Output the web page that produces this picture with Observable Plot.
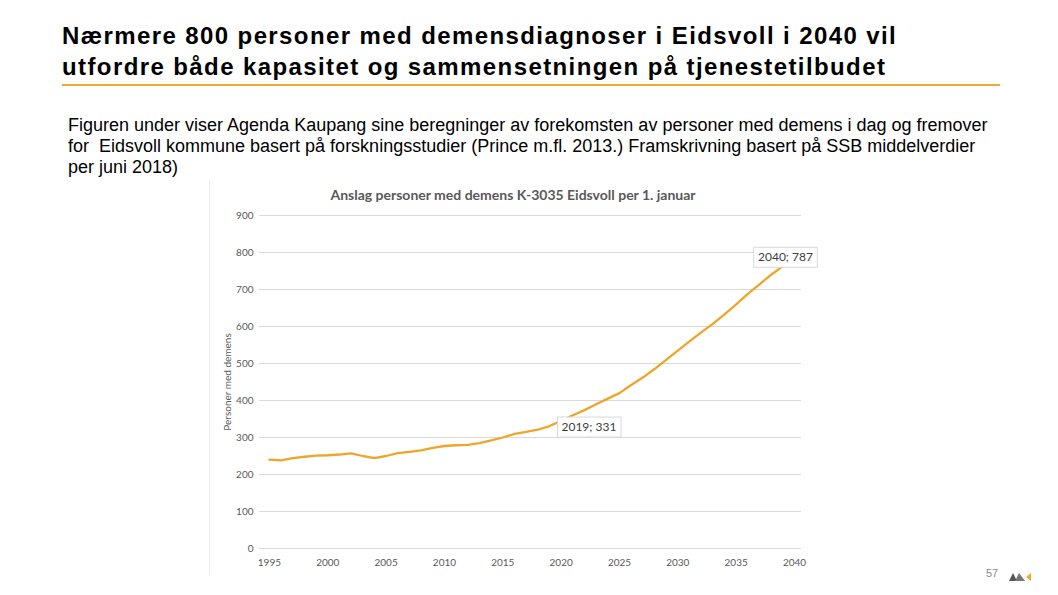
<!DOCTYPE html>
<html>
<head>
<meta charset="utf-8">
<script src="https://cdn.jsdelivr.net/npm/d3@7"></script>
<script src="https://cdn.jsdelivr.net/npm/@observablehq/plot@0.6"></script>
<style>
  html, body { margin: 0; padding: 0; background: #fff; }
  #page { position: relative; width: 1058px; height: 595px; overflow: hidden; background: #fff; }
  #title { position: absolute; left: 62px; top: 20px; font-family: "Liberation Sans", Arial, sans-serif; font-weight: bold; font-size: 24px; letter-spacing: 1.4px; line-height: 31px; color: #000; white-space: pre; }
  #rule { position: absolute; left: 62px; top: 84px; width: 938px; height: 2px; background: #EFAA33; }
  #sub { position: absolute; left: 68px; top: 115px; font-family: "Liberation Sans", Arial, sans-serif; font-size: 18px; line-height: 21px; color: #000; white-space: pre; }
  #chart { position: absolute; left: 209px; top: 180px; width: 606px; height: 395px; border-left: 1px solid #ececec; }
  #charttitle { position: absolute; left: 0; width: 606px; top: 6px; text-align: center; font-family: Lato, "Open Sans", sans-serif; font-weight: bold; font-size: 14px; color: #595959; }
  #pagenum { position: absolute; left: 986px; top: 567px; font-family: "Liberation Sans", Arial, sans-serif; font-size: 11px; color: #8a8a8a; }
  #logo { position: absolute; left: 1009px; top: 571px; }
</style>
</head>
<body>
<div id="page">
  <div id="title"></div>
  <div id="rule"></div>
  <div id="sub"></div>
  <div id="chart"><div id="charttitle"></div></div>
  <div id="pagenum">57</div>
  <svg id="logo" width="24" height="11" viewBox="0 0 24 11">
    <polygon points="0,10 4,2 8,10" fill="#555"/>
    <polygon points="6,10 10,2 16,10" fill="#777"/>
    <polygon points="17,6 22,2 22,10" fill="#EFAA33"/>
  </svg>
</div>
<script>
const titleLines = [
  "Nærmere 800 personer med demensdiagnoser i Eidsvoll i 2040 vil",
  "utfordre både kapasitet og sammensetningen på tjenestetilbudet"
];
const subtitleLines = [
  "Figuren under viser Agenda Kaupang sine beregninger av forekomsten av personer med demens i dag og fremover",
  "for  Eidsvoll kommune basert på forskningsstudier (Prince m.fl. 2013.) Framskrivning basert på SSB middelverdier",
  "per juni 2018)"
];
const chartTitle = "Anslag personer med demens K-3035 Eidsvoll per 1. januar";
const yLabel = "Personer med demens";

const years = [1995,1996,1997,1998,1999,2000,2001,2002,2003,2004,2005,2006,2007,2008,2009,2010,
  2011,2012,2013,2014,2015,2016,2017,2018,2019,2020,2021,2022,2023,2024,2025,2026,2027,2028,2029,2030,
  2031,2032,2033,2034,2035,2036,2037,2038,2039,2040];
const persons = [240,238,244,248,251,252,254,257,250,244,250,258,261,265,272,277,
  279,280,285,292,300,310,315,321,331,345,360,374,390,405,420,442,462,485,510,535,
  560,584,607,633,660,688,714,740,763,787];
const labeledYears = [2019, 2040];
const xTicks = [1995,2000,2005,2010,2015,2020,2025,2030,2035,2040];
const yTicks = [0,100,200,300,400,500,600,700,800,900];

document.getElementById("title").textContent = titleLines.join("\n");
document.getElementById("sub").textContent = subtitleLines.join("\n");
document.getElementById("charttitle").textContent = chartTitle;

const data = years.map((y, i) => ({year: y, value: persons[i]}));
const labelData = data.filter(d => labeledYears.includes(d.year));

function boxedLabel(anchor, source) {
  return function(index, scales, values, dims, ctx, next) {
    const g = next(index, scales, values, dims, ctx);
    index.forEach((i) => {
      const d = source[i];
      const s = `${d.year}; ${d.value}`;
      const w = s.length * 6.4 + 6;
      const h = 20;
      const x = values.x[i];
      const y = values.y[i];
      const left = anchor === "start" ? x - 4 : x - w / 2;
      const r = ctx.document.createElementNS("http://www.w3.org/2000/svg", "rect");
      r.setAttribute("x", left);
      r.setAttribute("y", y - h / 2);
      r.setAttribute("width", w);
      r.setAttribute("height", h);
      r.setAttribute("fill", "#fff");
      r.setAttribute("stroke", "#d9d9d9");
      r.setAttribute("stroke-width", "1");
      g.insertBefore(r, g.firstChild);
    });
    return g;
  };
}

const label2019 = labelData.filter(d => d.year === 2019);
const label2040 = labelData.filter(d => d.year === 2040);

const chart = Plot.plot({
  width: 606,
  height: 395,
  marginLeft: 49,
  marginRight: 15,
  marginTop: 35,
  marginBottom: 27,
  style: { fontFamily: "Lato, 'Open Sans', sans-serif", color: "#595959", background: "transparent", overflow: "visible" },
  x: { domain: [1994.15, 2040.6], ticks: xTicks, tickFormat: d => String(d), tickSize: 0, tickPadding: 10, label: null },
  y: { domain: [0, 900], ticks: yTicks, tickSize: 0, tickPadding: 6, label: yLabel, labelAnchor: "center", labelArrow: "none" },
  marks: [
    Plot.gridY(yTicks, { stroke: "#d9d9d9", strokeOpacity: 1, strokeWidth: 1 }),
    Plot.axisY({ ticks: yTicks, tickSize: 0, tickPadding: 6, fontSize: 10, label: yLabel, labelAnchor: "center", labelOffset: 36, labelArrow: "none" }),
    Plot.axisX({ ticks: xTicks, tickSize: 0, tickPadding: 10, fontSize: 10, tickFormat: d => String(d), label: null }),
    Plot.line(data, { x: "year", y: "value", stroke: "#EFA52A", strokeWidth: 2.3, curve: "linear" }),
    Plot.text(label2019, { x: "year", y: "value", text: d => `${d.year}; ${d.value}`, textAnchor: "start", dx: 12, dy: 1, fontSize: 12, fill: "#404040",
      render: boxedLabel("start", label2019) }),
    Plot.text(label2040, { x: "year", y: "value", text: d => `${d.year}; ${d.value}`, textAnchor: "middle", dx: -9, dy: 0, fontSize: 12, fill: "#404040",
      render: boxedLabel("middle", label2040) })
  ]
});
document.getElementById("chart").appendChild(chart);
</script>
</body>
</html>
